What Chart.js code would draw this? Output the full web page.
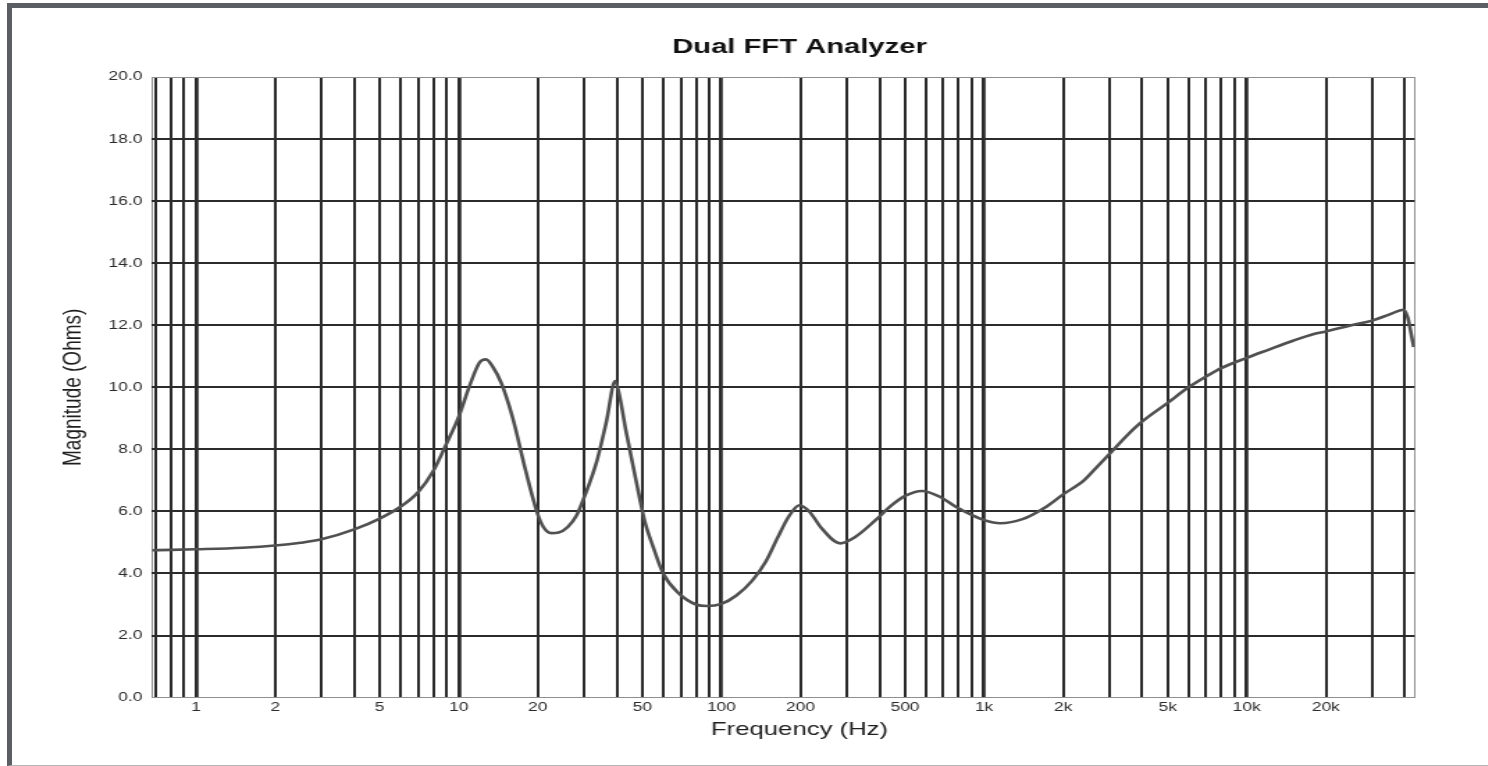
<!DOCTYPE html>
<html>
<head>
<meta charset="utf-8">
<title>Dual FFT Analyzer</title>
<script src="https://cdn.jsdelivr.net/npm/chart.js@4.4.1/dist/chart.umd.min.js"></script>
<style>
html, body { margin: 0; padding: 0; overflow: hidden; background: #fff; }
#wrap { position: relative; width: 1488px; height: 766px; overflow: hidden; }
/* the scanned original is stretched sideways, so the canvas is drawn narrow and widened by css */
#myChart { position: absolute; left: 0; top: 0; }
#frame { position: absolute; left: 7px; top: 3px; right: 0; bottom: 0; border-left: 5px solid #5b5e63; border-top: 5px solid #5b5e63; border-bottom: 1px solid #b4b4b4; pointer-events: none; }
</style>
</head>
<body>
<div id="wrap">
    <canvas id="myChart" width="1150" height="766" style="width:1598.5px;height:766px"></canvas>
    <div id="frame"></div>
</div>
<script>
const freqHz = [
    0.68, 0.8, 1, 1.5, 2, 2.5, 3, 4, 5, 6, 7, 8, 9, 10, 11, 12, 12.7, 13.5, 14.5, 16, 18,
    20, 21, 22.5, 24, 26, 28, 30, 33.5, 36.5, 39.4, 41, 43.3, 47.3, 51, 55, 60, 69, 80, 88,
    100, 114, 131, 147, 164, 180, 198, 216, 241, 283, 322, 385, 445, 500, 580, 676, 780, 900,
    1000, 1150, 1400, 1700, 2000, 2400, 2600, 3000, 3500, 4000, 5000, 6000, 7000, 8000,
    10000, 12000, 15000, 18000, 20000, 25000, 30000, 35000, 39500, 41000, 42500, 43200
];
const magnitudeOhms = [
    4.75, 4.76, 4.78, 4.83, 4.9, 4.99, 5.1, 5.42, 5.77, 6.15, 6.62, 7.3, 8.2, 9.05, 10.05, 10.8, 10.9, 10.65, 10.15, 9.05, 7.3,
    5.9, 5.5, 5.3, 5.32, 5.5, 5.85, 6.45, 7.6, 8.9, 10.2, 9.7, 8.6, 7.0, 5.7, 4.85, 4.0, 3.35, 3.0, 2.95,
    3.02, 3.29, 3.77, 4.36, 5.17, 5.82, 6.2, 6.0, 5.45, 4.97, 5.17, 5.71, 6.2, 6.5, 6.66, 6.48, 6.15, 5.88,
    5.72, 5.62, 5.75, 6.12, 6.55, 7.0, 7.3, 7.85, 8.45, 8.9, 9.5, 10.0, 10.35, 10.62,
    10.95, 11.2, 11.5, 11.72, 11.8, 12.0, 12.15, 12.35, 12.5, 12.25, 11.6, 11.3
];
const xTickValues = [1, 2, 5, 10, 20, 50, 100, 200, 500, 1000, 2000, 5000, 10000, 20000];
const xTickLabels = ["1", "2", "5", "10", "20", "50", "100", "200", "500", "1k", "2k", "5k", "10k", "20k"];
const freqMin = 0.68;
const freqMax = 43500;
const ohmMin = 0;
const ohmMax = 20;
const ohmStep = 2;

const fontFamily = "'Liberation Sans', Arial, Helvetica, sans-serif";
const gridColor = "#2b2b2b";
const edgeColor = "#8f8f8f";

// one grid line per 1..9 x 10^n, plus the two plot edges
function gridFrequencies() {
    let list = [freqMin];
    for (let exp = -1; exp <= 4; exp++) {
        for (let m = 1; m <= 9; m++) {
            let v = m * Math.pow(10, exp);
            if (v > freqMin * 1.001 && v < freqMax * 0.999) list.push(v);
        }
    }
    list.push(freqMax);
    return list;
}

function isDecade(v) {
    let e = Math.log10(v);
    return Math.abs(e - Math.round(e)) < 1e-9;
}

function isEdgeFreq(v) {
    return Math.abs(v - freqMin) < 1e-6 || Math.abs(v - freqMax) < 1e-3;
}

function freqLabel(value) {
    let i = xTickValues.findIndex(t => Math.abs(t - value) < t * 1e-6);
    return i >= 0 ? xTickLabels[i] : "";
}

function drawChart() {
    const ctx = document.getElementById("myChart").getContext("2d");
    const points = freqHz.map((f, i) => ({ x: f, y: magnitudeOhms[i] }));
    const data = {
        datasets: [{
            label: "Magnitude",
            data: points,
            borderColor: "#505050",
            borderWidth: 2.6,
            pointRadius: 0,
            fill: false,
            cubicInterpolationMode: "monotone"
        }]
    };
    const config = {
        type: "line",
        data: data,
        options: {
            responsive: false,
            animation: false,
            layout: { padding: { left: 0, right: 0, top: 0, bottom: 24.6 } },
            plugins: {
                legend: { display: false },
                tooltip: { enabled: false },
                title: {
                    display: true,
                    text: "Dual FFT Analyzer",
                    color: "#111111",
                    font: { family: fontFamily, size: 21, weight: "bold" },
                    padding: { top: 34.9, bottom: 16.9 }
                },
                subtitle: {
                    display: true,
                    position: "bottom",
                    text: "Frequency (Hz)",
                    color: "#1e1e1e",
                    font: { family: fontFamily, size: 18.5 },
                    padding: { top: 0, bottom: 0 }
                }
            },
            scales: {
                x: {
                    type: "logarithmic",
                    min: freqMin,
                    max: freqMax,
                    afterBuildTicks: axis => {
                        axis.ticks = gridFrequencies().map(v => ({ value: v }));
                    },
                    afterFit: axis => { axis.height = 21.6; },
                    border: { display: false },
                    grid: {
                        drawTicks: false,
                        color: c => (c.tick && isEdgeFreq(c.tick.value)) ? edgeColor : gridColor,
                        lineWidth: c => {
                            if (!c.tick) return 1;
                            if (isEdgeFreq(c.tick.value)) return 1;
                            return isDecade(c.tick.value) ? 2.8 : 2;
                        }
                    },
                    ticks: {
                        autoSkip: false,
                        maxRotation: 0,
                        padding: 2,
                        color: "#2a2a2a",
                        font: { family: fontFamily, size: 12.5 },
                        callback: value => freqLabel(value)
                    }
                },
                y: {
                    min: ohmMin,
                    max: ohmMax,
                    afterFit: axis => { axis.width = 109.35; },
                    border: { display: false },
                    grid: {
                        drawTicks: false,
                        color: c => (c.tick && (c.tick.value === ohmMin || c.tick.value === ohmMax)) ? edgeColor : gridColor,
                        lineWidth: c => (c.tick && (c.tick.value === ohmMin || c.tick.value === ohmMax)) ? 1 : 2
                    },
                    ticks: {
                        stepSize: ohmStep,
                        padding: 7,
                        color: "#2a2a2a",
                        font: { family: fontFamily, size: 12.5 },
                        callback: value => value.toFixed(1)
                    },
                    title: {
                        display: true,
                        text: "Magnitude (Ohms)",
                        color: "#1e1e1e",
                        font: { family: fontFamily, size: 19 },
                        padding: { top: 41.1, bottom: 0 }
                    }
                },
                // empty right-hand margin so the full-width titles centre where the original has them
                yRight: {
                    position: "right",
                    afterFit: axis => { axis.width = 132.7; },
                    border: { display: false },
                    grid: { display: false },
                    ticks: { display: false }
                }
            }
        }
    };
    new Chart(ctx, config);
}

document.addEventListener("DOMContentLoaded", function () {
    drawChart();
});
</script>
</body>
</html>
